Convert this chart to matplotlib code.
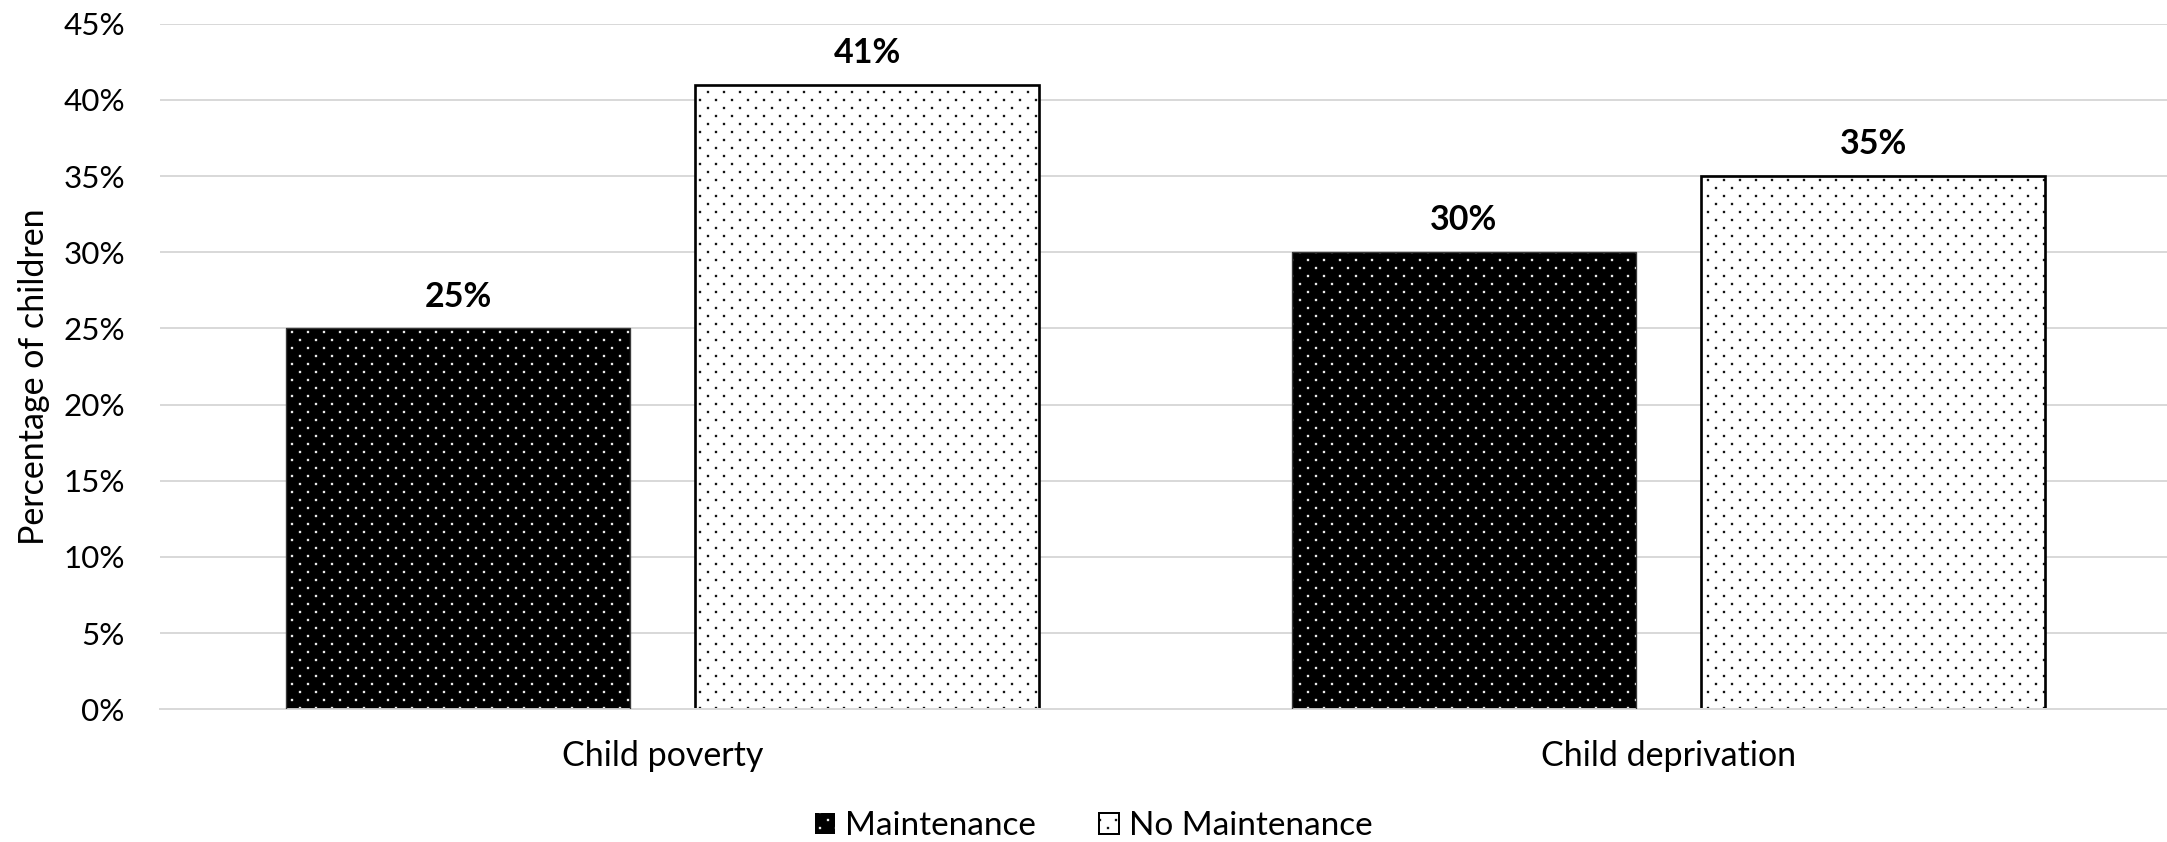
import numpy as np
import matplotlib
matplotlib.use("Agg")
import matplotlib.pyplot as plt
import matplotlib.hatch as mhatch
import matplotlib.patches as mpatches
from matplotlib.path import Path
from matplotlib.ticker import PercentFormatter, MultipleLocator

# ---- data -------------------------------------------------------------
categories = ["Child poverty", "Child deprivation"]
series_names = ["Maintenance", "No Maintenance"]
maintenance = [25, 30]        # % of children
no_maintenance = [41, 35]     # % of children
y_max = 45
y_step = 5
y_label = "Percentage of children"


# ---- staggered dot fill used for the '.' hatch --------------------------
class StaggeredDots(mhatch.HatchPatternBase):
    """Small square dots; rows are twice as dense as columns and every
    other row is shifted by half a column."""

    half = 0.0085

    def __init__(self, hatch, density):
        self.cols = hatch.count(".") * density
        self.rows = 2 * self.cols
        self.num_vertices = self.cols * self.rows * 5

    def set_vertices_and_codes(self, vertices, codes):
        h = self.half
        square = np.array([[-h, -h], [h, -h], [h, h], [-h, h], [-h, -h]])
        square_codes = [Path.MOVETO, Path.LINETO, Path.LINETO,
                        Path.LINETO, Path.CLOSEPOLY]
        k = 0
        for r in range(self.rows):
            y = (r + 0.5) / self.rows
            shift = 0.25 if r % 2 == 0 else 0.75
            for c in range(self.cols):
                x = (c + shift) / self.cols
                vertices[k:k + 5] = square + (x, y)
                codes[k:k + 5] = square_codes
                k += 5


mhatch._hatch_types = [StaggeredDots if t is mhatch.SmallFilledCircles else t
                       for t in mhatch._hatch_types]

# ---- figure -----------------------------------------------------------
DPI = 96
W, H = 2167, 842
FS_TICK = 23.5     # percent tick labels
FS_TEXT = 25.5     # category labels, axis title
FS_LEGEND = 25.0
FS_VALUE = 25.5    # bold value labels

plt.rcParams["font.family"] = ["Lato", "DejaVu Sans"]
plt.rcParams["hatch.linewidth"] = 0.5

fig = plt.figure(figsize=(W / DPI, H / DPI), dpi=DPI)
left, right, top, bottom = 159.5, 2171.5, 23.7, 709.3
ax = fig.add_axes([left / W, 1 - bottom / H, (right - left) / W, (bottom - top) / H])

x = np.arange(len(categories))
bar_w = 0.341
off = 0.2033

ax.bar(x - off, maintenance, bar_w, facecolor="black", edgecolor="white",
       linewidth=0, hatch=".", zorder=2)
ax.bar(x - off, maintenance, bar_w, fill=False, edgecolor="#3a3a3a",
       linewidth=1.0, zorder=3)
ax.bar(x + off, no_maintenance, bar_w, facecolor="white", edgecolor="black",
       linewidth=2.0, hatch=".", zorder=2)

# value labels
for xs, vals in ((x - off, maintenance), (x + off, no_maintenance)):
    for xi, v in zip(xs, vals):
        ax.annotate(f"{v:g}%", (xi, v), xytext=(0, 16.3), textcoords="offset points",
                    ha="center", va="baseline", fontsize=FS_VALUE, fontweight="bold")

ax.set_xlim(-0.5, 1.5)
ax.set_ylim(0, y_max)
ax.yaxis.set_major_locator(MultipleLocator(y_step))
ax.yaxis.set_major_formatter(PercentFormatter(xmax=100, decimals=0))
ax.set_xticks(x)
ax.set_xticklabels(categories)

ax.tick_params(axis="both", length=0)
ax.tick_params(axis="y", pad=26, labelsize=FS_TICK)
ax.tick_params(axis="x", pad=23, labelsize=FS_TEXT)

for s in ("top", "left", "right"):
    ax.spines[s].set_visible(False)
ax.spines["bottom"].set_color("#d9d9d9")
ax.spines["bottom"].set_linewidth(1.5)
ax.yaxis.grid(True, color="#d9d9d9", linewidth=1.5)
ax.set_axisbelow(True)

ax.set_ylabel(y_label, fontsize=FS_TEXT)
ax.yaxis.set_label_coords((50 - left) / (right - left), 0.485)

handles = [
    mpatches.Patch(facecolor="black", edgecolor="white", linewidth=0, hatch=".",
                   label=series_names[0]),
    mpatches.Patch(facecolor="white", edgecolor="black", linewidth=1.5, hatch=".",
                   label=series_names[1]),
]
fig.legend(handles=handles, loc="center", bbox_to_anchor=(1094 / W, 1 - 826 / H),
           ncol=2, frameon=False, fontsize=FS_LEGEND, handlelength=0.6,
           handleheight=0.6, handletextpad=0.3, columnspacing=1.9)

fig.savefig("out.png", dpi=DPI)
